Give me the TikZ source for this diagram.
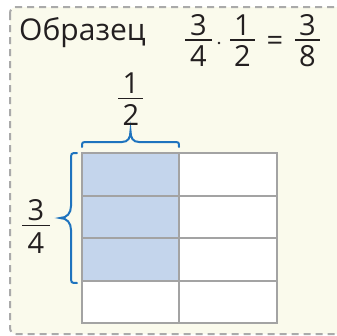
\documentclass[tikz,border=0pt]{standalone}
\usepackage{fontspec}
\setmainfont{Open Sans}
\definecolor{cream}{HTML}{FAFAEC}
\definecolor{framegray}{HTML}{AAAAAA}
\definecolor{gridgray}{HTML}{A3A3A3}
\definecolor{cellblue}{HTML}{C4D5EC}
\definecolor{braceblue}{HTML}{1E73BE}
\definecolor{ink}{HTML}{231F20}
\begin{document}
\begin{tikzpicture}[x=1pt,y=-1pt,
  frame/.style={draw=framegray,fill=cream,line width=2pt,dash pattern=on 7pt off 5pt,rounded corners=6pt},
  gridline/.style={draw=gridgray,line width=2pt},
  bracepath/.style={draw=braceblue,line width=2pt,line cap=round},
  fracdigit/.style={inner sep=0pt,text=ink,font=\fontsize{29}{34}\selectfont,anchor=base},
  fracbar/.style={draw=ink,line width=1.3pt}]
\useasboundingbox (0,0) rectangle (337,335);
\clip (0,0) rectangle (337,335);
\path[frame] (10,7) rectangle (350,334);
% title
\node[inner sep=0pt,text=ink,font=\fontsize{30}{34}\selectfont,anchor=base west] (title) at (19,40.5) {Образец};
% 3/4 . 1/2 = 3/8
\node[fracdigit] (an) at (198.5,35) {3};
\node[fracdigit] (ad) at (198.5,66.5) {4};
\draw[fracbar] (185,40) -- (211.5,40);
\fill[ink] (219,43) circle (1.4pt);
\node[fracdigit] (bn) at (242.5,35) {1};
\node[fracdigit] (bd) at (242.5,66.5) {2};
\draw[fracbar] (230,40) -- (255,40);
\node[inner sep=0pt,text=ink,font=\fontsize{29}{34}\selectfont] (eq) at (275,43) {=};
\node[fracdigit] (cn) at (307.5,35) {3};
\node[fracdigit] (cd) at (307.5,66.5) {8};
\draw[fracbar] (295,40) -- (320,40);
% grid
\fill[white] (82,153) rectangle (277,323);
\fill[cellblue] (82,153) rectangle (179,281);
\draw[gridline] (82,153) rectangle (277,323);
\draw[gridline] (179,153) -- (179,323);
\draw[gridline] (82,196) -- (277,196);
\draw[gridline] (82,238) -- (277,238);
\draw[gridline] (82,281) -- (277,281);
% top brace and 1/2
\draw[bracepath] (82,147) .. controls (82,142) .. (88,142) -- (122,142) .. controls (128,142) and (130.5,138) .. (130.5,131) .. controls (130.5,138) and (133,142) .. (139,142) -- (173,142) .. controls (179,142) .. (179,147);
\node[fracdigit] (tn) at (130.8,93.3) {1};
\node[fracdigit] (td) at (130.8,125) {2};
\draw[fracbar] (118.3,98.3) -- (143.3,98.3);
% left brace and 3/4
\draw[bracepath] (77,153) .. controls (71,153) .. (71,160) -- (71,206) .. controls (71,213) and (67,218) .. (60,218) .. controls (67,218) and (71,223) .. (71,230) -- (71,276) .. controls (71,283) .. (77,283);
\node[fracdigit] (ln) at (36,220.5) {3};
\node[fracdigit] (ld) at (36,253) {4};
\draw[fracbar] (22,225.5) -- (50,225.5);
\end{tikzpicture}
\end{document}
